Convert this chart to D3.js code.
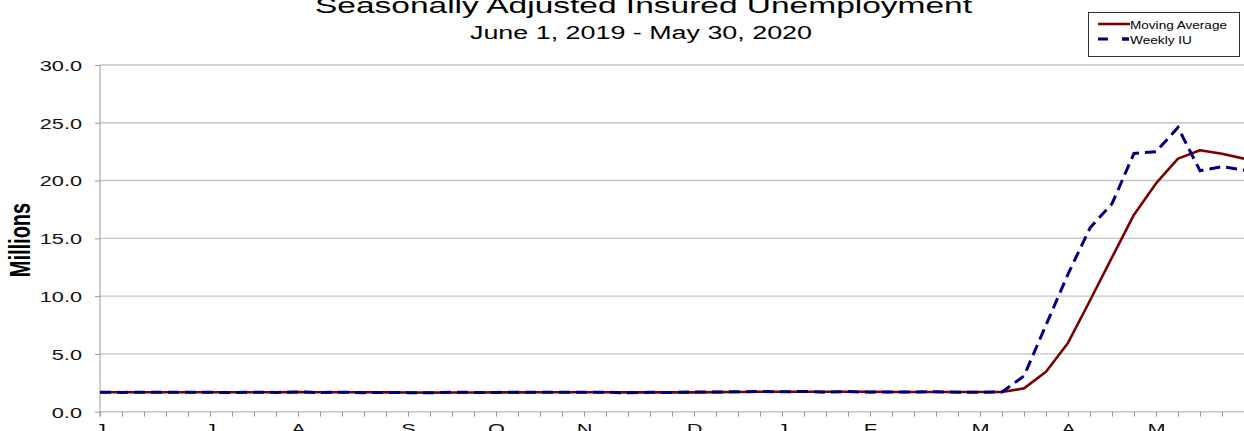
<!DOCTYPE html>
<html>
<head>
<meta charset="utf-8">
<script src="https://cdn.jsdelivr.net/npm/d3@7"></script>
<style>
  html, body { margin: 0; padding: 0; background: #fff; }
  svg { display: block; font-family: "Liberation Sans", Arial, sans-serif; }
</style>
</head>
<body>
<svg id="chart"></svg>
<script>
// weeks ending Saturday, June 1 2019 .. May 30 2020
const startWeek = '2019-06-01';
const endWeek = '2020-05-30';

// millions, seasonally adjusted
const weeklyIU = [
  1.68, 1.67, 1.68, 1.68, 1.69, 1.68, 1.66, 1.69, 1.67, 1.71,
  1.66, 1.69, 1.65, 1.66, 1.65, 1.64, 1.68, 1.67, 1.67, 1.68,
  1.68, 1.68, 1.68, 1.69, 1.63, 1.68, 1.66, 1.71, 1.71, 1.72,
  1.76, 1.72, 1.75, 1.69, 1.74, 1.69, 1.71, 1.71, 1.72, 1.69,
  1.69, 1.71, 3.09, 7.50, 11.90, 15.90, 18.00, 22.35, 22.50, 24.60,
  20.85, 21.20, 20.90
];
const movingAvg = [
  1.68, 1.68, 1.68, 1.68, 1.68, 1.68, 1.68, 1.68, 1.68, 1.69,
  1.68, 1.68, 1.68, 1.67, 1.66, 1.65, 1.66, 1.66, 1.67, 1.67,
  1.68, 1.68, 1.68, 1.68, 1.67, 1.67, 1.67, 1.67, 1.69, 1.70,
  1.72, 1.73, 1.73, 1.73, 1.72, 1.72, 1.71, 1.70, 1.71, 1.71,
  1.70, 1.70, 2.02, 3.46, 5.95, 9.62, 13.35, 17.05, 19.75, 21.90,
  22.62, 22.32, 21.90
];
const yTicks = [0, 5, 10, 15, 20, 25, 30];

const title = 'Seasonally Adjusted Insured Unemployment';
const subtitle = 'June 1, 2019 - May 30, 2020';
const yLabel = 'Millions';
const seriesNames = ['Moving Average', 'Weekly IU'];

const W = 1244, H = 431;
const SX = 1.45; // source image is stretched horizontally
const parse = d3.timeParse('%Y-%m-%d');
const weeks = d3.timeSaturday.range(parse(startWeek), d3.timeDay.offset(parse(endWeek), 1));

const svg = d3.select('#chart').attr('width', W).attr('height', H);

const x = d3.scaleTime()
  .domain([parse(startWeek), parse(endWeek)])
  .range([100, 1244]);

const y = d3.scaleLinear()
  .domain([0, 30])
  .range([411.7, 65]);

// gridlines
svg.append('g')
  .selectAll('line')
  .data(yTicks)
  .join('line')
  .attr('x1', 100)
  .attr('x2', W)
  .attr('y1', d => y(d))
  .attr('y2', d => y(d))
  .attr('stroke', '#c4c4c4')
  .attr('stroke-width', 1.4);

// y-axis
const yAxis = svg.append('g')
  .attr('transform', 'translate(100,0)')
  .call(d3.axisLeft(y).tickValues(yTicks).tickFormat(d3.format('.1f')).tickSize(5).tickPadding(0));
yAxis.select('.domain').attr('stroke', '#9a9a9a').attr('d', `M0,${y(30)}V${y(0) + 5}`);
yAxis.selectAll('.tick line').attr('stroke', '#9a9a9a');
yAxis.selectAll('.tick text')
  .attr('x', -18 / SX)
  .attr('dy', '0.36em')
  .attr('transform', `scale(${SX},1)`)
  .style('font-size', '15px')
  .style('fill', '#111');

// x-axis
const xAxis = svg.append('g')
  .attr('transform', `translate(0,${y(0)})`)
  .call(d3.axisBottom(x)
    .tickValues(weeks)
    .tickSize(5)
    .tickFormat(d => d.getDate() <= 7 ? d3.timeFormat('%b')(d).charAt(0) : ''));
xAxis.select('.domain').remove();
xAxis.selectAll('.tick line').attr('stroke', '#9a9a9a');
xAxis.selectAll('.tick text')
  .attr('y', 22)
  .attr('dy', 0)
  .attr('transform', `scale(${SX},1)`)
  .style('font-size', '15px')
  .style('fill', '#111');

// lines
const line = d3.line()
  .x((d, i) => x(weeks[i]))
  .y(d => y(d));

svg.append('path')
  .datum(movingAvg)
  .attr('fill', 'none')
  .attr('stroke', '#7a0000')
  .attr('stroke-width', 2.6)
  .attr('stroke-linejoin', 'round')
  .attr('d', line);

svg.append('path')
  .datum(weeklyIU)
  .attr('fill', 'none')
  .attr('stroke', '#00007e')
  .attr('stroke-width', 3)
  .attr('stroke-dasharray', '11,6')
  .attr('d', line);

// titles
svg.append('text')
  .attr('x', 643.5)
  .attr('y', 13)
  .attr('text-anchor', 'middle')
  .attr('textLength', 657)
  .attr('lengthAdjust', 'spacingAndGlyphs')
  .style('font-size', '22.5px')
  .style('fill', '#000')
  .text(title);

svg.append('text')
  .attr('x', 641)
  .attr('y', 39)
  .attr('text-anchor', 'middle')
  .attr('textLength', 342)
  .attr('lengthAdjust', 'spacingAndGlyphs')
  .style('font-size', '18px')
  .style('fill', '#000')
  .text(subtitle);

svg.append('text')
  .attr('transform', `translate(30,240) scale(${SX},1) rotate(-90)`)
  .attr('text-anchor', 'middle')
  .style('font-size', '20px')
  .style('font-weight', 'bold')
  .style('fill', '#000')
  .text(yLabel);

// legend
const legend = svg.append('g');
legend.append('rect')
  .attr('x', 1088.5)
  .attr('y', 12.5)
  .attr('width', 151)
  .attr('height', 44)
  .attr('fill', '#fff')
  .attr('stroke', '#333')
  .attr('stroke-width', 1);

legend.append('line')
  .attr('x1', 1098).attr('x2', 1130)
  .attr('y1', 24).attr('y2', 24)
  .attr('stroke', '#7a0000')
  .attr('stroke-width', 2.6);

legend.append('line')
  .attr('x1', 1098).attr('x2', 1129)
  .attr('y1', 39).attr('y2', 39)
  .attr('stroke', '#00007e')
  .attr('stroke-width', 3)
  .attr('stroke-dasharray', '10,14');
legend.append('line')
  .attr('x1', 1122).attr('x2', 1129)
  .attr('y1', 39).attr('y2', 39)
  .attr('stroke', '#00007e')
  .attr('stroke-width', 3);

legend.selectAll('text')
  .data(seriesNames)
  .join('text')
  .attr('x', 1130)
  .attr('y', (d, i) => i === 0 ? 28.5 : 43.5)
  .attr('textLength', (d, i) => i === 0 ? 97 : 62)
  .attr('lengthAdjust', 'spacingAndGlyphs')
  .style('font-size', '11.5px')
  .style('fill', '#000')
  .text(d => d);
</script>
</body>
</html>
